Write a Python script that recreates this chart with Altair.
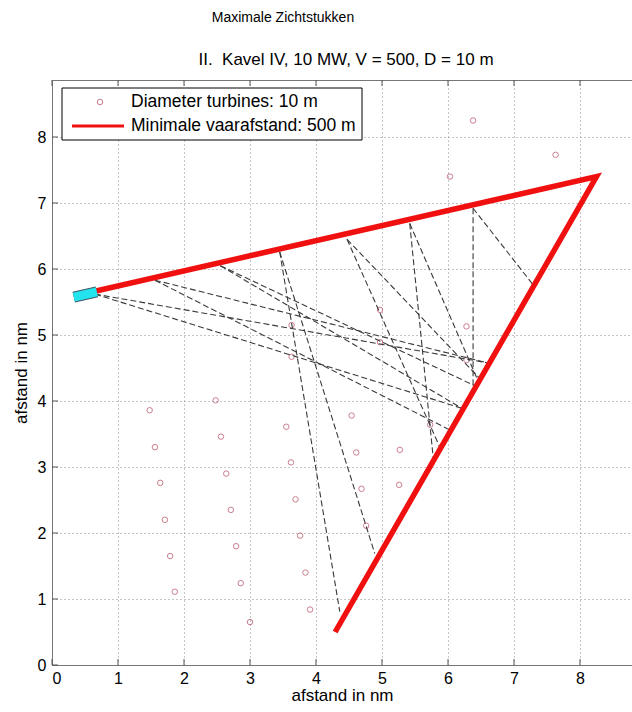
import altair as alt
import pandas as pd

# ---------------- data ----------------
turb_x = [1.48, 1.56, 1.64, 1.71, 1.79, 1.86,
          2.48, 2.56, 2.64, 2.71, 2.79, 2.86, 3.00,
          3.55, 3.62, 3.69, 3.76, 3.84, 3.91, 3.63, 3.63,
          4.54, 4.61, 4.69, 4.76,
          5.27, 5.26, 5.73,
          4.97, 4.97, 6.28, 6.28,
          6.03, 6.38, 7.63]
turb_y = [3.86, 3.30, 2.76, 2.20, 1.65, 1.11,
          4.01, 3.46, 2.90, 2.35, 1.80, 1.24, 0.65,
          3.61, 3.07, 2.51, 1.96, 1.40, 0.84, 5.15, 4.67,
          3.78, 3.22, 2.67, 2.11,
          3.26, 2.73, 3.64,
          5.38, 4.89, 5.13, 4.62,
          7.40, 8.25, 7.73]

red_x = [0.55, 8.25, 4.29]
red_y = [5.64, 7.40, 0.50]

ship_x = [0.33, 0.68]
ship_y = [5.575, 5.655]

sight_x0 = [0.65, 0.65, 1.56, 1.56, 2.55, 2.55, 3.45, 3.45, 4.47, 4.47, 5.42, 5.42, 6.38, 6.38]
sight_y0 = [5.62, 5.62, 5.83, 5.83, 6.05, 6.05, 6.26, 6.26, 6.45, 6.45, 6.69, 6.69, 6.92, 6.92]
sight_x1 = [6.59, 6.21, 6.59, 6.05, 6.43, 6.21, 4.36, 4.89, 5.89, 6.50, 5.78, 6.47, 6.38, 7.29]
sight_y1 = [4.58, 3.89, 4.58, 3.55, 4.22, 3.89, 0.81, 1.69, 3.27, 4.32, 3.10, 4.27, 4.12, 5.76]

tick_values = [0, 1, 2, 3, 4, 5, 6, 7, 8]
legend_labels = ["Diameter turbines: 10 m", "Minimale vaarafstand: 500 m"]
title_main = "Maximale Zichtstukken"
title_sub = "II.\u00a0 Kavel IV, 10 MW, V = 500, D = 10 m"
x_title = "afstand in nm"
y_title = "afstand in nm"

# ---------------- layout ----------------
W, H = 580, 585
UNIT = 66.0
XMAX = W / UNIT
YMAX = H / UNIT
FONT = "Liberation Sans"

turb_df = pd.DataFrame({"x": turb_x, "y": turb_y})
red_df = pd.DataFrame({"x": red_x, "y": red_y, "o": list(range(len(red_x)))})
ship_df = pd.DataFrame({"x": [ship_x[0]], "y": [ship_y[0]], "x2": [ship_x[1]], "y2": [ship_y[1]]})
sight_df = pd.DataFrame({"x": sight_x0, "y": sight_y0, "x2": sight_x1, "y2": sight_y1})
tick_df = pd.DataFrame({"t": tick_values})
one_df = pd.DataFrame({"a": [0]})

xscale = alt.Scale(domain=[0, XMAX], nice=False, zero=False)
yscale = alt.Scale(domain=[0, YMAX], nice=False, zero=False)

xaxis = alt.Axis(values=tick_values, title=x_title, grid=True, gridDash=[1, 3],
                 gridColor="#8a8a8a", gridWidth=1, ticks=False, labelPadding=5,
                 labelFontSize=16, titleFontSize=17, titlePadding=1,
                 labelFont=FONT, titleFont=FONT, titleFontWeight="normal",
                 labelColor="black", titleColor="black", domainColor="#777",
                 format="d")
yaxis = alt.Axis(values=tick_values, title=y_title, grid=True, gridDash=[1, 3],
                 gridColor="#8a8a8a", gridWidth=1, ticks=False, labelPadding=6,
                 labelFontSize=16, titleFontSize=17, titlePadding=7,
                 labelFont=FONT, titleFont=FONT, titleFontWeight="normal",
                 labelColor="black", titleColor="black", domainColor="#777",
                 format="d")

X = lambda f="x": alt.X(f"{f}:Q", scale=xscale, axis=xaxis)
Y = lambda f="y": alt.Y(f"{f}:Q", scale=yscale, axis=yaxis)

# inward ticks
tick_bottom = alt.Chart(tick_df).mark_rule(color="#555", strokeWidth=1).encode(
    x=alt.X("t:Q", scale=xscale, axis=xaxis), y=alt.value(H), y2=alt.value(H - 6))
tick_top = alt.Chart(tick_df).mark_rule(color="#555", strokeWidth=1).encode(
    x=alt.X("t:Q", scale=xscale, axis=xaxis), y=alt.value(0), y2=alt.value(6))
tick_left = alt.Chart(tick_df).mark_rule(color="#555", strokeWidth=1).encode(
    y=alt.Y("t:Q", scale=yscale, axis=yaxis), x=alt.value(0), x2=alt.value(6))

sight = alt.Chart(sight_df).mark_rule(color="#3a3a3a", strokeWidth=1.1, strokeDash=[6, 3]).encode(
    x=X(), y=Y(), x2="x2:Q", y2="y2:Q")

turbines = alt.Chart(turb_df).mark_point(shape="circle", filled=False, color="#b5485e",
                                         size=30, strokeWidth=1).encode(x=X(), y=Y())

red = alt.Chart(red_df).mark_line(color="#f01010", strokeWidth=5.5, strokeJoin="miter",
                                   strokeCap="butt").encode(x=X(), y=Y(), order="o:Q")

ship_edge = alt.Chart(ship_df).mark_rule(color="#3d5a66", strokeWidth=11, strokeCap="butt").encode(
    x=X(), y=Y(), x2="x2:Q", y2="y2:Q")
ship = alt.Chart(ship_df).mark_rule(color="#22e3ee", strokeWidth=9, strokeCap="butt").encode(
    x=X(), y=Y(), x2="x2:Q", y2="y2:Q")

# legend box
leg_box = alt.Chart(one_df).mark_rect(fill="white", stroke="black", strokeWidth=1).encode(
    x=alt.value(10), x2=alt.value(310), y=alt.value(8), y2=alt.value(60))
leg_pt = alt.Chart(one_df).mark_point(shape="circle", filled=False, color="#b5485e",
                                      size=30, strokeWidth=1).encode(
    x=alt.value(48), y=alt.value(22))
leg_line = alt.Chart(one_df).mark_rule(color="#f01010", strokeWidth=3).encode(
    x=alt.value(20), x2=alt.value(72), y=alt.value(46))
leg_t1 = alt.Chart(one_df).mark_text(text=legend_labels[0], align="left", baseline="middle",
                                     font=FONT, fontSize=17.5, color="black").encode(
    x=alt.value(79), y=alt.value(22))
leg_t2 = alt.Chart(one_df).mark_text(text=legend_labels[1], align="left", baseline="middle",
                                     font=FONT, fontSize=17.5, color="black").encode(
    x=alt.value(79), y=alt.value(46))

top_title = alt.Chart(one_df).mark_text(text=title_main, align="center", baseline="middle",
                                        font=FONT, fontSize=14, color="black").encode(
    x=alt.value(231), y=alt.value(-62))
sub_title = alt.Chart(one_df).mark_text(text=title_sub, align="center", baseline="middle",
                                        font=FONT, fontSize=17, color="black").encode(
    x=alt.value(294), y=alt.value(-20))

chart = alt.layer(
    turbines, sight, red, ship_edge, ship, tick_bottom, tick_top, tick_left,
    leg_box, leg_pt, leg_line, leg_t1, leg_t2, top_title, sub_title
).properties(
    width=W, height=H,
    autosize=alt.AutoSizeParams(type="none"),
    padding={"left": 52, "top": 80, "right": 0, "bottom": 47},
    background="white",
).configure_view(stroke="#777", strokeWidth=1)

chart.save("out.html", embed_options={"renderer": "svg", "actions": False})
